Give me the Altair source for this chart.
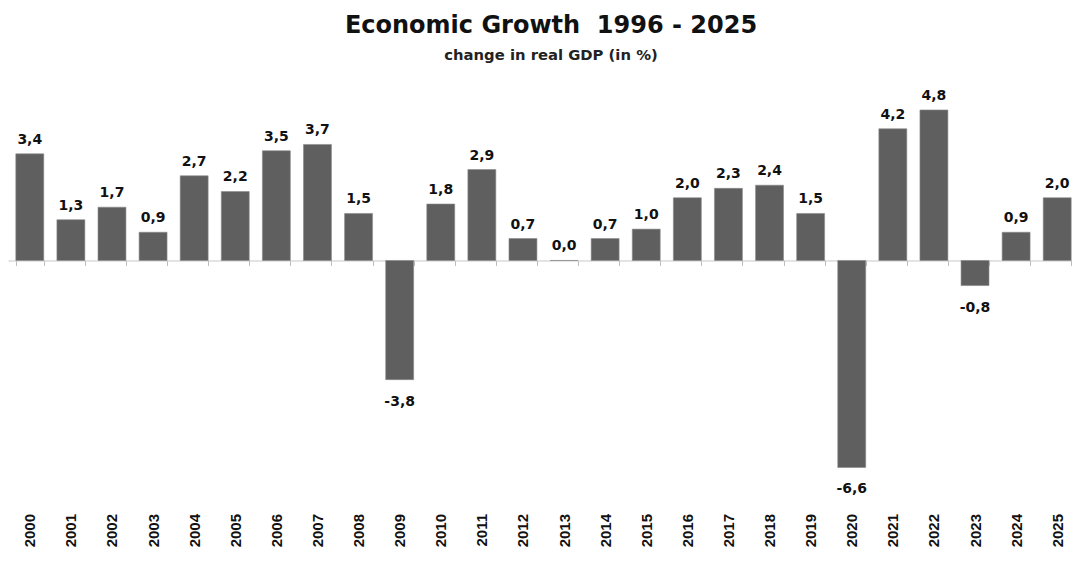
import altair as alt
import pandas as pd

years = ["2000", "2001", "2002", "2003", "2004", "2005", "2006", "2007", "2008",
         "2009", "2010", "2011", "2012", "2013", "2014", "2015", "2016", "2017",
         "2018", "2019", "2020", "2021", "2022", "2023", "2024", "2025"]
growth = [3.4, 1.3, 1.7, 0.9, 2.7, 2.2, 3.5, 3.7, 1.5, -3.8, 1.8, 2.9, 0.7,
          0.0, 0.7, 1.0, 2.0, 2.3, 2.4, 1.5, -6.6, 4.2, 4.8, -0.8, 0.9, 2.0]

title_text = "Economic Growth \u00a01996 - 2025"
subtitle_text = "change in real GDP (in %)"

df = pd.DataFrame({"year": years, "growth": growth})

W, H = 1064, 392
PAD_TOP, PAD_BOTTOM = 80, 68
y_dom = [-7.0, 5.5]
zero_px = H * y_dom[1] / (y_dom[1] - y_dom[0])

x_enc = alt.X(
    "year:N", sort=years, title=None,
    scale=alt.Scale(range=[0, 1071], paddingInner=0.32, paddingOuter=0.19),
    axis=alt.Axis(
        labelAngle=-90, offset=zero_px - H, domainColor="#c8c8c8", domainWidth=1,
        ticks=True, tickBand="extent", tickSize=5, tickColor="#bdbdbd",
        labelFont="Liberation Sans", labelFontWeight="bold", labelFontSize=15,
        labelColor="#111111", labelPadding=248, grid=False,
    ),
)
y_enc = alt.Y("growth:Q", scale=alt.Scale(domain=y_dom, nice=False, zero=True), axis=None)

base = alt.Chart(df).transform_calculate(
    label="(datum.growth < 0 ? '-' : '') + replace(format(abs(datum.growth), '.1f'), '.', ',')"
)

bars = base.mark_bar(color="#5f5f5f", stroke="#8a8a8a", strokeWidth=0.6).encode(x=x_enc, y=y_enc)

pos_text = base.transform_filter("datum.growth >= 0").mark_text(
    font="DejaVu Sans", fontWeight="bold", fontSize=14, color="#111111",
    baseline="alphabetic", dy=-10,
).encode(x=x_enc, y=y_enc, text="label:N")

neg_text = base.transform_filter("datum.growth < 0").mark_text(
    font="DejaVu Sans", fontWeight="bold", fontSize=14, color="#111111",
    baseline="alphabetic", dy=26,
).encode(x=x_enc, y=y_enc, text="label:N")

chart = alt.layer(bars, pos_text, neg_text).properties(
    width=W, height=H,
    autosize=alt.AutoSizeParams(type="none"),
    padding={"left": 0, "right": 0, "top": PAD_TOP, "bottom": PAD_BOTTOM},
    title=alt.TitleParams(
        title_text, subtitle=subtitle_text, anchor="middle", dx=11, offset=25,
        font="DejaVu Sans", fontSize=24, fontWeight="bold", color="#111111",
        subtitleFont="DejaVu Sans", subtitleFontSize=14.8, subtitleFontWeight="bold",
        subtitleColor="#222222", subtitlePadding=10,
    ),
).configure(background="white").configure_view(stroke=None)

chart.save("out.html", embed_options={"renderer": "svg", "actions": False})
